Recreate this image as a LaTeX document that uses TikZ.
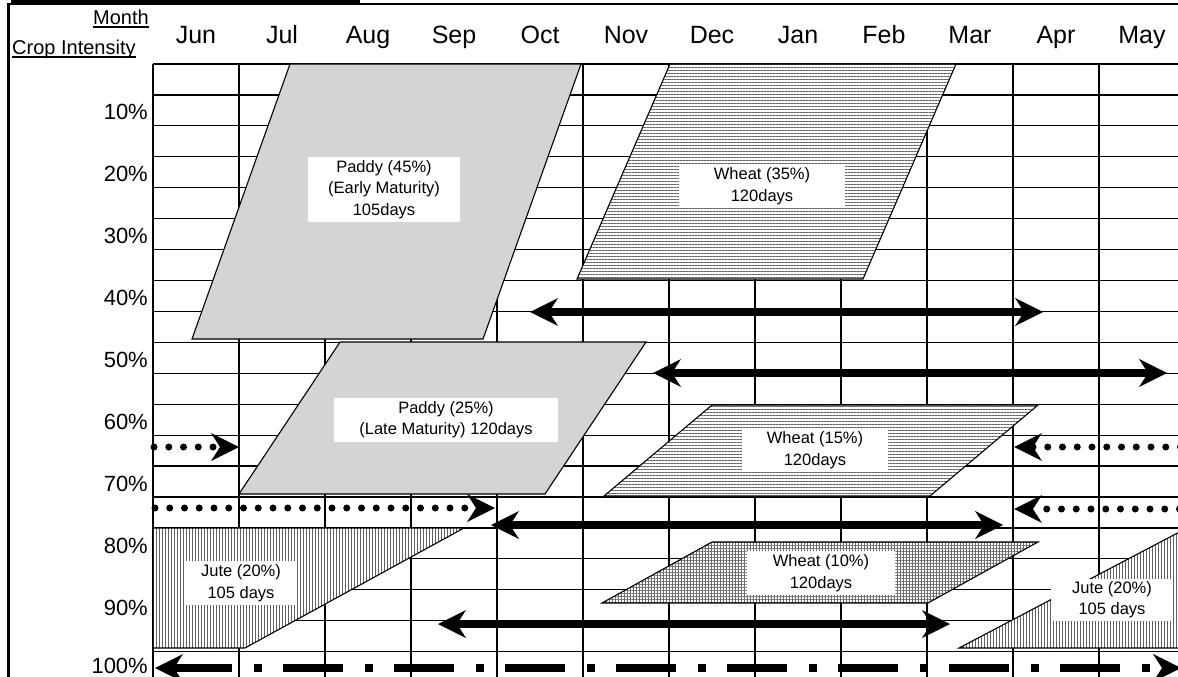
\documentclass[tikz,border=0pt]{standalone}
\usepackage{fontspec}
\setmainfont{Liberation Sans}
\usetikzlibrary{arrows.meta,patterns.meta}

\tikzset{
  grid line/.style={line width=1.2pt, black},
  crop edge/.style={line width=1.1pt, black, line join=miter},
  stipple/.style={preaction={fill=black!17}},
  hlines/.style={preaction={fill=white},
    preaction={pattern={Lines[angle=0,distance=3pt,line width=1pt]},pattern color=black!62}},
  vlines/.style={preaction={fill=white},
    preaction={pattern={Lines[angle=90,distance=3pt,line width=1pt]},pattern color=black!62}},
  checks/.style={preaction={fill=white},
    preaction={pattern={Lines[angle=0,distance=3pt,line width=0.8pt]},pattern color=black!58},
    preaction={pattern={Lines[angle=90,distance=3pt,line width=0.8pt]},pattern color=black!58}},
  cropbox/.style={fill=white, inner sep=0pt, align=center,
    font=\fontsize{16.5pt}{21.5pt}\selectfont},
  month/.style={anchor=base, inner sep=0pt, font=\fontsize{25pt}{30pt}\selectfont},
  pct/.style={anchor=base east, inner sep=0pt, font=\fontsize{22pt}{26pt}\selectfont},
  heading/.style={inner sep=0pt, font=\fontsize{20pt}{24pt}\selectfont},
  bigtip/.tip={Stealth[length=28pt,width=28pt,inset=9pt,line width=0pt]},
  period/.style={line width=7.5pt, arrows={bigtip-bigtip}},
  carry/.style={line width=7pt, line cap=round, dash pattern=on 0pt off 14.75pt, arrows={-bigtip}},
  fallow/.style={line width=7.3pt, dash pattern=on 60pt off 22pt on 8pt off 21pt, dash phase=2pt,
    arrows={bigtip-bigtip}},
}

\begin{document}
\begin{tikzpicture}[x=1pt,y=-1pt]
\useasboundingbox (0,0) rectangle (1178,677);
\clip (0,0) rectangle (1178,677);
\fill[white] (0,0) rectangle (1178,677);

% outer frame and title band
\fill[black] (11,0) rectangle (360,5);
\draw[line width=1.6pt] (8,4) -- (1178,4);
\draw[line width=3pt] (8.5,3) -- (8.5,677);

% calendar grid
\foreach \i in {0,...,12}
  \draw[grid line] ({153+86*\i},64) -- ({153+86*\i},677);
\foreach \k in {0,...,19}
  \draw[grid line] (153,{64+30.93*\k}) -- (1178,{64+30.93*\k});

% headings
\node[heading, anchor=base east] (month) at (149,25) {Month};
\node[heading, anchor=base west] (intensity) at (12,55) {Crop Intensity};
\draw[line width=1.3pt] ([yshift=-2pt]month.base west) -- ([yshift=-2pt]month.base east);
\draw[line width=1.3pt] ([yshift=-2pt]intensity.base west) -- ([yshift=-2pt]intensity.base east);

\foreach \m [count=\i from 0] in {Jun,Jul,Aug,Sep,Oct,Nov,Dec,Jan,Feb,Mar,Apr,May}
  \node[month] (m\m) at ({196+86*\i},44) {\m};
\foreach \n in {1,...,9}
  \node[pct] (p\n) at (148,{119+62*(\n-1)}) {\n0\%};
\node[pct] (p10) at (148,673) {100\%};

% crop seasons
\draw[crop edge, stipple] (290,64) -- (581,64) -- (483,339) -- (192,339) -- cycle;
\node[cropbox, minimum width=152pt, minimum height=65pt] (paddyEarly) at (384,189.5)
  {Paddy (45\%)\\(Early Maturity)\\105days};

\draw[crop edge, hlines] (670,64) -- (956,64) -- (863,279) -- (577,279) -- cycle;
\node[cropbox, minimum width=166pt, minimum height=44pt] (wheatA) at (762,186)
  {Wheat (35\%)\\120days};

\draw[crop edge, stipple] (340,342) -- (646,342) -- (545,494) -- (239,494) -- cycle;
\node[cropbox, minimum width=224pt, minimum height=44pt] (paddyLate) at (446,419.5)
  {Paddy (25\%)\\(Late Maturity) 120days};

\draw[crop edge, hlines] (712,405) -- (1038,405) -- (930,496) -- (604,496) -- cycle;
\node[cropbox, minimum width=146pt, minimum height=44pt] (wheatB) at (815,450)
  {Wheat (15\%)\\120days};

\draw[crop edge, checks] (712,542) -- (1038,542) -- (928,603) -- (602,603) -- cycle;
\node[cropbox, minimum width=148pt, minimum height=44pt] (wheatC) at (821,573)
  {Wheat (10\%)\\120days};

\draw[crop edge, vlines] (153,528) -- (464,528) -- (245,648) -- (153,648) -- cycle;
\node[cropbox, minimum width=112pt, minimum height=44pt] (juteA) at (241,583)
  {Jute (20\%)\\105 days};

\draw[crop edge, vlines] (959,648) -- (1187,528) -- (1300,528) -- (1300,648) -- cycle;
\node[cropbox, minimum width=122pt, minimum height=42pt] (juteB) at (1112,599.5)
  {Jute (20\%)\\105 days};

% field occupation periods
\coordinate (a1) at (530,312);   \coordinate (a2) at (1043,312);
\coordinate (b1) at (653,373);   \coordinate (b2) at (1167,373);
\coordinate (c1) at (491,525);   \coordinate (c2) at (1003,525);
\coordinate (d1) at (438,624);   \coordinate (d2) at (950,624);
\draw[period] (a1) -- (a2);
\draw[period] (b1) -- (b2);
\draw[period] (c1) -- (c2);
\draw[period] (d1) -- (d2);

% carried-over periods
\coordinate (e1) at (154,447);    \coordinate (e2) at (239,447);
\coordinate (f1) at (155,508);    \coordinate (f2) at (495,508);
\coordinate (g1) at (1180.5,447); \coordinate (g2) at (1014,447);
\coordinate (h1) at (1179.5,509); \coordinate (h2) at (1014,509);
\draw[carry] (e1) -- (e2);
\draw[carry] (f1) -- (f2);
\draw[carry] (g1) -- (g2);
\draw[carry] (h1) -- (h2);

% full-year line
\coordinate (y1) at (155,668); \coordinate (y2) at (1181,668);
\draw[fallow] (y1) -- (y2);
\end{tikzpicture}
\end{document}
